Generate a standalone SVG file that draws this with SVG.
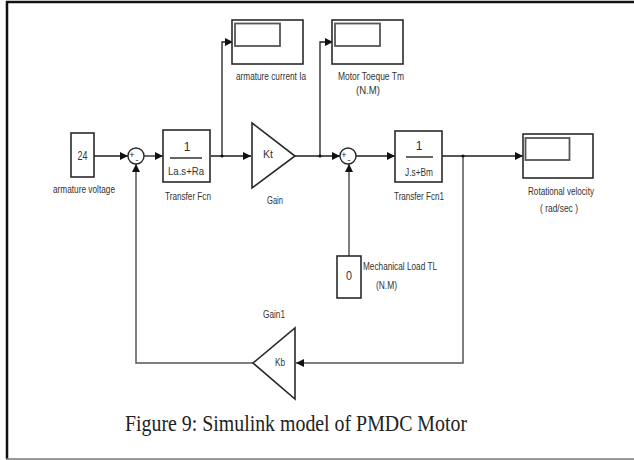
<svg xmlns="http://www.w3.org/2000/svg" width="634" height="460" viewBox="0 0 634 460">
<style>
.blk{fill:#fff;stroke:#2a2a2a;stroke-width:1.6}
.scr{fill:#fff;stroke:#555;stroke-width:1.8}
.w{fill:none;stroke:#1e1e1e;stroke-width:1.3}
.wg{fill:none;stroke:#555;stroke-width:1.5}
.lbl{font-family:"Liberation Sans",Arial,sans-serif;font-size:11px;fill:#333}
.num{font-family:"Liberation Sans",Arial,sans-serif;font-size:12px;fill:#333}
.sg{font-family:"Liberation Sans",Arial,sans-serif;font-size:9px;fill:#222}
</style>
<defs>
<marker id="ah" viewBox="0 0 8 8" refX="8" refY="4" markerWidth="8" markerHeight="8" markerUnits="userSpaceOnUse" orient="auto">
<path d="M0,0 L8,4 L0,8 z" fill="#111"/>
</marker>
</defs>
<rect width="634" height="460" fill="#fff"/>
<g id="frame">
<line x1="6" y1="2" x2="634" y2="2" stroke="#111" stroke-width="2.5"/>
<line x1="7" y1="1" x2="7" y2="459" stroke="#111" stroke-width="2.5"/>
<line x1="6" y1="459" x2="634" y2="459" stroke="#777" stroke-width="1.5"/>
</g>
<g id="connectors">
<path class="w" d="M94,156 H128" marker-end="url(#ah)"/>
<path class="w" d="M144,156 H163" marker-end="url(#ah)"/>
<path class="w" d="M211,156 H251" marker-end="url(#ah)"/>
<path class="w" d="M222,156 V42 H233" marker-end="url(#ah)"/>
<path class="w" d="M295,156 H340" marker-end="url(#ah)"/>
<path class="w" d="M320,156 V42 H333" marker-end="url(#ah)"/>
<path class="w" d="M356,156 H395" marker-end="url(#ah)"/>
<path class="w" d="M442,156 H523" marker-end="url(#ah)"/>
<path class="wg" d="M463,156 V363 H296" marker-end="url(#ah)"/>
<path class="wg" d="M253,363 H136 V164" marker-end="url(#ah)"/>
<path class="wg" d="M349,256 V164" marker-end="url(#ah)"/>
<circle cx="222" cy="156" r="1.6" fill="#111"/>
<circle cx="320" cy="156" r="1.6" fill="#111"/>
<circle cx="463" cy="156" r="1.6" fill="#111"/>
</g>
<g id="const24">
<rect class="blk" x="71" y="133" width="23" height="44"/>
<text class="num" x="82.5" y="160" text-anchor="middle" textLength="10" lengthAdjust="spacingAndGlyphs">24</text>
<text class="lbl" x="84" y="193" text-anchor="middle" textLength="62" lengthAdjust="spacingAndGlyphs">armature voltage</text>
</g>
<g id="sum1">
<circle cx="136" cy="156" r="8" fill="#fff" stroke="#2a2a2a" stroke-width="1.4"/>
<text class="sg" x="132" y="158" text-anchor="middle">+</text>
<text class="sg" x="137" y="163" text-anchor="middle">-</text>
</g>
<g id="tf">
<rect class="blk" x="163" y="130" width="47" height="52"/>
<text class="num" x="187" y="151" text-anchor="middle">1</text>
<line x1="170" y1="158" x2="202" y2="158" stroke="#333" stroke-width="1.5"/>
<text class="lbl" x="186" y="175" text-anchor="middle" textLength="36" lengthAdjust="spacingAndGlyphs">La.s+Ra</text>
<text class="lbl" x="188" y="200" text-anchor="middle" textLength="46" lengthAdjust="spacingAndGlyphs">Transfer Fcn</text>
</g>
<g id="scope1">
<rect class="blk" x="232" y="20" width="71" height="44"/>
<rect class="scr" x="235" y="23.5" width="45" height="22.5"/>
<text class="lbl" x="271" y="80" text-anchor="middle" textLength="70" lengthAdjust="spacingAndGlyphs">armature current Ia</text>
</g>
<g id="gain">
<polygon class="blk" points="252,123 295,156 252,188"/>
<text class="lbl" x="268" y="158" text-anchor="middle" textLength="10" lengthAdjust="spacingAndGlyphs">Kt</text>
<text class="lbl" x="275" y="204" text-anchor="middle" textLength="16" lengthAdjust="spacingAndGlyphs">Gain</text>
</g>
<g id="scope2">
<rect class="blk" x="332" y="20" width="71" height="44"/>
<rect class="scr" x="335" y="23.5" width="45" height="22.5"/>
<text class="lbl" x="371" y="80" text-anchor="middle" textLength="66" lengthAdjust="spacingAndGlyphs">Motor Toeque Tm</text>
<text class="lbl" x="368" y="94" text-anchor="middle" textLength="24" lengthAdjust="spacingAndGlyphs">(N.M)</text>
</g>
<g id="sum2">
<circle cx="348" cy="156" r="8" fill="#fff" stroke="#2a2a2a" stroke-width="1.4"/>
<text class="sg" x="344" y="158" text-anchor="middle">+</text>
<text class="sg" x="349" y="163" text-anchor="middle">-</text>
</g>
<g id="tf1">
<rect class="blk" x="395" y="131" width="47" height="51"/>
<text class="num" x="419" y="150" text-anchor="middle">1</text>
<line x1="406" y1="157" x2="433" y2="157" stroke="#333" stroke-width="1.5"/>
<text class="lbl" x="419" y="176" text-anchor="middle" textLength="28" lengthAdjust="spacingAndGlyphs">J.s+Bm</text>
<text class="lbl" x="419" y="200" text-anchor="middle" textLength="50" lengthAdjust="spacingAndGlyphs">Transfer Fcn1</text>
</g>
<g id="scope3">
<rect class="blk" x="523" y="134" width="70" height="44"/>
<rect class="scr" x="525.5" y="138" width="44" height="22"/>
<text class="lbl" x="561" y="195" text-anchor="middle" textLength="66" lengthAdjust="spacingAndGlyphs">Rotational velocity</text>
<text class="lbl" x="559" y="212" text-anchor="middle" textLength="38" lengthAdjust="spacingAndGlyphs">( rad/sec )</text>
</g>
<g id="const0">
<rect class="blk" x="337" y="256" width="24" height="42"/>
<text class="num" x="349" y="280" text-anchor="middle" textLength="6" lengthAdjust="spacingAndGlyphs">0</text>
<text class="lbl" x="363" y="270" textLength="74" lengthAdjust="spacingAndGlyphs">Mechanical Load TL</text>
<text class="lbl" x="376" y="289" textLength="21" lengthAdjust="spacingAndGlyphs">(N.M)</text>
</g>
<g id="gain1">
<polygon class="blk" points="295,328 295,399 253,363"/>
<text class="lbl" x="280" y="366" text-anchor="middle" textLength="10" lengthAdjust="spacingAndGlyphs">Kb</text>
<text class="lbl" x="274" y="318" text-anchor="middle" textLength="22" lengthAdjust="spacingAndGlyphs">Gain1</text>
</g>
<g id="caption">
<text x="125" y="431" font-family="'Liberation Serif','Times New Roman',serif" font-size="24" fill="#222" textLength="342" lengthAdjust="spacingAndGlyphs">Figure 9: Simulink model of PMDC Motor</text>
</g>
</svg>
